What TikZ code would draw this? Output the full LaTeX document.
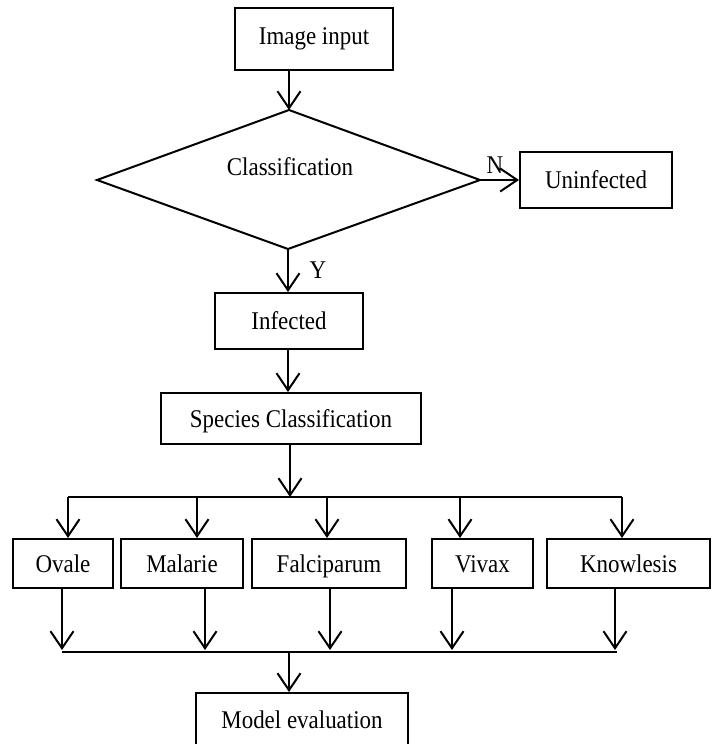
\documentclass[tikz,border=0pt]{standalone}
\usepackage{fontspec}
\setmainfont{Liberation Serif}[FakeStretch=0.9]
\usetikzlibrary{arrows.meta}
\begin{document}
\begin{tikzpicture}[x=1pt,y=-1pt,
  box/.style={draw,line width=2pt,rectangle,inner sep=0pt,text height=17.5pt,text depth=0pt,font=\fontsize{25.5}{30}\selectfont},
  lbl/.style={inner sep=0pt,font=\fontsize{25.5}{30}\selectfont},
  arr/.style={line width=2pt,-{Straight Barb[length=17pt,width=23pt,line width=2pt]}},
  ln/.style={line width=2pt}]
\useasboundingbox (0,0) rectangle (718,744);
% boxes
\node[box,text depth=6pt,minimum width=158pt,minimum height=62pt] (img) at (314,39) {Image input};
\node[box,minimum width=152pt,minimum height=56pt] (un) at (596,180) {Uninfected};
\node[box,minimum width=148pt,minimum height=56pt] (inf) at (289,321) {Infected};
\node[box,minimum width=260pt,minimum height=51pt] (sp) at (291,418.5) {Species Classification};
\node[box,minimum width=100pt,minimum height=49pt] (ov) at (63,563.5) {Ovale};
\node[box,minimum width=122pt,minimum height=49pt] (ma) at (182,563.5) {Malarie};
\node[box,minimum width=154pt,minimum height=49pt] (fa) at (329,563.5) {Falciparum};
\node[box,minimum width=101pt,minimum height=49pt] (vi) at (482.5,563.5) {Vivax};
\node[box,minimum width=163pt,minimum height=49pt] (kn) at (628.5,563.5) {Knowlesis};
\node[box,minimum width=212pt,minimum height=53pt] (me) at (302,719.5) {Model evaluation};
% diamond
\coordinate (dT) at (289,110);
\coordinate (dR) at (480,180);
\coordinate (dB) at (288,249);
\coordinate (dL) at (97,180);
\draw[ln,line join=miter] (dT) -- (dR) -- (dB) -- (dL) -- cycle;
\node[lbl] (cls) at (290,167) {Classification};
% labels
\node[lbl] (nl) at (495,165) {N};
\node[lbl] (yl) at (318,270) {Y};
% top connectors
\draw[arr] (img.south -| dT) -- (dT);
\draw[arr] (dR) -- (un.west);
\draw[arr] (dB) -- (dB |- inf.north);
\draw[arr] (inf.south -| dB) -- (sp.north -| dB);
% branch to species
\coordinate (bsp) at (290,497);
\coordinate (t1) at (68,497);
\coordinate (t2) at (197,497);
\coordinate (t3) at (327,497);
\coordinate (t4) at (460,497);
\coordinate (t5) at (622,497);
\draw[arr] (sp.south -| bsp) -- (bsp);
\draw[ln] (t1) -- (t5);
\draw[arr] (t1) -- (t1 |- ov.north);
\draw[arr] (t2) -- (t2 |- ma.north);
\draw[arr] (t3) -- (t3 |- fa.north);
\draw[arr] (t4) -- (t4 |- vi.north);
\draw[arr] (t5) -- (t5 |- kn.north);
% merge
\coordinate (b1) at (62,650);
\coordinate (b2) at (205,650);
\coordinate (b3) at (330,650);
\coordinate (b4) at (452,650);
\coordinate (b5) at (615,650);
\coordinate (bme) at (289,652);
\draw[arr] (b1 |- ov.south) -- (b1);
\draw[arr] (b2 |- ma.south) -- (b2);
\draw[arr] (b3 |- fa.south) -- (b3);
\draw[arr] (b4 |- vi.south) -- (b4);
\draw[arr] (b5 |- kn.south) -- (b5);
\draw[ln] (62,652) -- (617,652);
\draw[arr] (bme) -- (bme |- me.north);
\end{tikzpicture}
\end{document}
